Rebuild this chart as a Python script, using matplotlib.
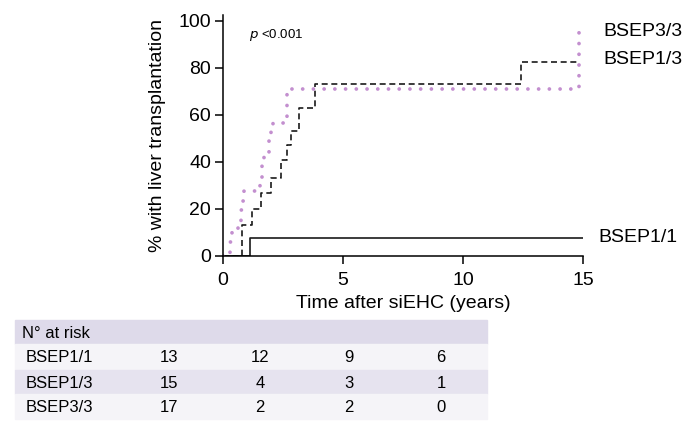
import numpy as np
import matplotlib.pyplot as plt

plt.rcParams['font.family'] = ['Liberation Sans', 'DejaVu Sans']

# Kaplan-Meier style step data (time in years, % with liver transplantation)
t_11 = [0, 1.12, 15.0]
s_11 = [0, 7.7, 7.7]

t_13 = [0, 0.8, 1.2, 1.57, 1.99, 2.42, 2.65, 2.83, 3.18, 3.83, 12.4, 14.83]
s_13 = [0, 13.3, 20.0, 26.7, 33.3, 40.6, 47.2, 53.3, 62.8, 73.1, 82.3, 82.3]

t_33 = [0, 0.29, 0.39, 0.62, 0.74, 0.8, 0.88, 1.55, 1.64, 1.71, 1.92, 2.0, 2.1, 2.65, 14.83]
s_33 = [0, 5.9, 10.0, 14.5, 19.5, 23.5, 27.6, 32.0, 38.1, 44.0, 49.2, 53.1, 56.4, 71.0, 98.0]

groups = ['BSEP1/1', 'BSEP1/3', 'BSEP3/3']
at_risk = [[13, 12, 9, 6],
           [15, 4, 3, 1],
           [17, 2, 2, 0]]

W, H = 692, 428
fig = plt.figure(figsize=(W / 100, H / 100), dpi=100)
ax = fig.add_axes([223 / W, 1 - 256 / H, 360 / W, (256 - 14.8) / H])

ax.step(t_11, s_11, where='post', color='#1a1a1a', lw=1.2)
ax.step(t_13, s_13, where='post', color='#1a1a1a', lw=1.2, linestyle=(0, (3.6, 2.2)))
ax.step(t_33, s_33, where='post', color='#c38fcf', lw=2.7,
        linestyle=(0, (0.01, 2.85)), dash_capstyle='round')

ax.set_xlim(0, 15)
ax.set_ylim(0, 102.5)
ax.set_xticks([0, 5, 10, 15])
ax.set_yticks([0, 20, 40, 60, 80, 100])
for side in ['top', 'right']:
    ax.spines[side].set_visible(False)
for side in ['left', 'bottom']:
    ax.spines[side].set_linewidth(1.1)
ax.tick_params(direction='out', length=5.5, width=1.1, labelsize=14, pad=3)
ax.tick_params(axis='x', pad=6)
ax.set_xlabel('Time after siEHC (years)', fontsize=14, labelpad=4)
ax.set_ylabel('% with liver transplantation', fontsize=14, labelpad=9)

ax.text(0.072, 0.918, r'$p$ <0.001', transform=ax.transAxes, fontsize=9.5, va='center')

# curve labels
def fig_text(x, y, s, **kw):
    fig.text(x / W, 1 - y / H, s, **kw)

fig_text(603, 31.5, 'BSEP3/3', fontsize=14, va='center')
fig_text(603, 59, 'BSEP1/3', fontsize=14, va='center')
fig_text(598, 238, 'BSEP1/1', fontsize=14, va='center')

# number at risk table
bands = [(320, 344, '#dedaea'), (344, 370, '#f5f4f8'), (370, 394, '#e6e3ef'), (394, 419, '#f5f4f8')]
for y0, y1, c in bands:
    fig.patches.append(plt.Rectangle((15 / W, 1 - y1 / H), (487 - 15) / W, (y1 - y0) / H,
                                     transform=fig.transFigure, color=c, zorder=0))

fig_text(22, 334, 'N° at risk', fontsize=12, va='center')
row_y = [358, 383, 408]
col_x = [169, 260, 349, 441]
for i, g in enumerate(groups):
    fig_text(26, row_y[i], g, fontsize=12, va='center')
    for j, n in enumerate(at_risk[i]):
        fig_text(col_x[j], row_y[i], str(n), fontsize=12, va='center', ha='center')

fig.savefig('out.png', dpi=100)
